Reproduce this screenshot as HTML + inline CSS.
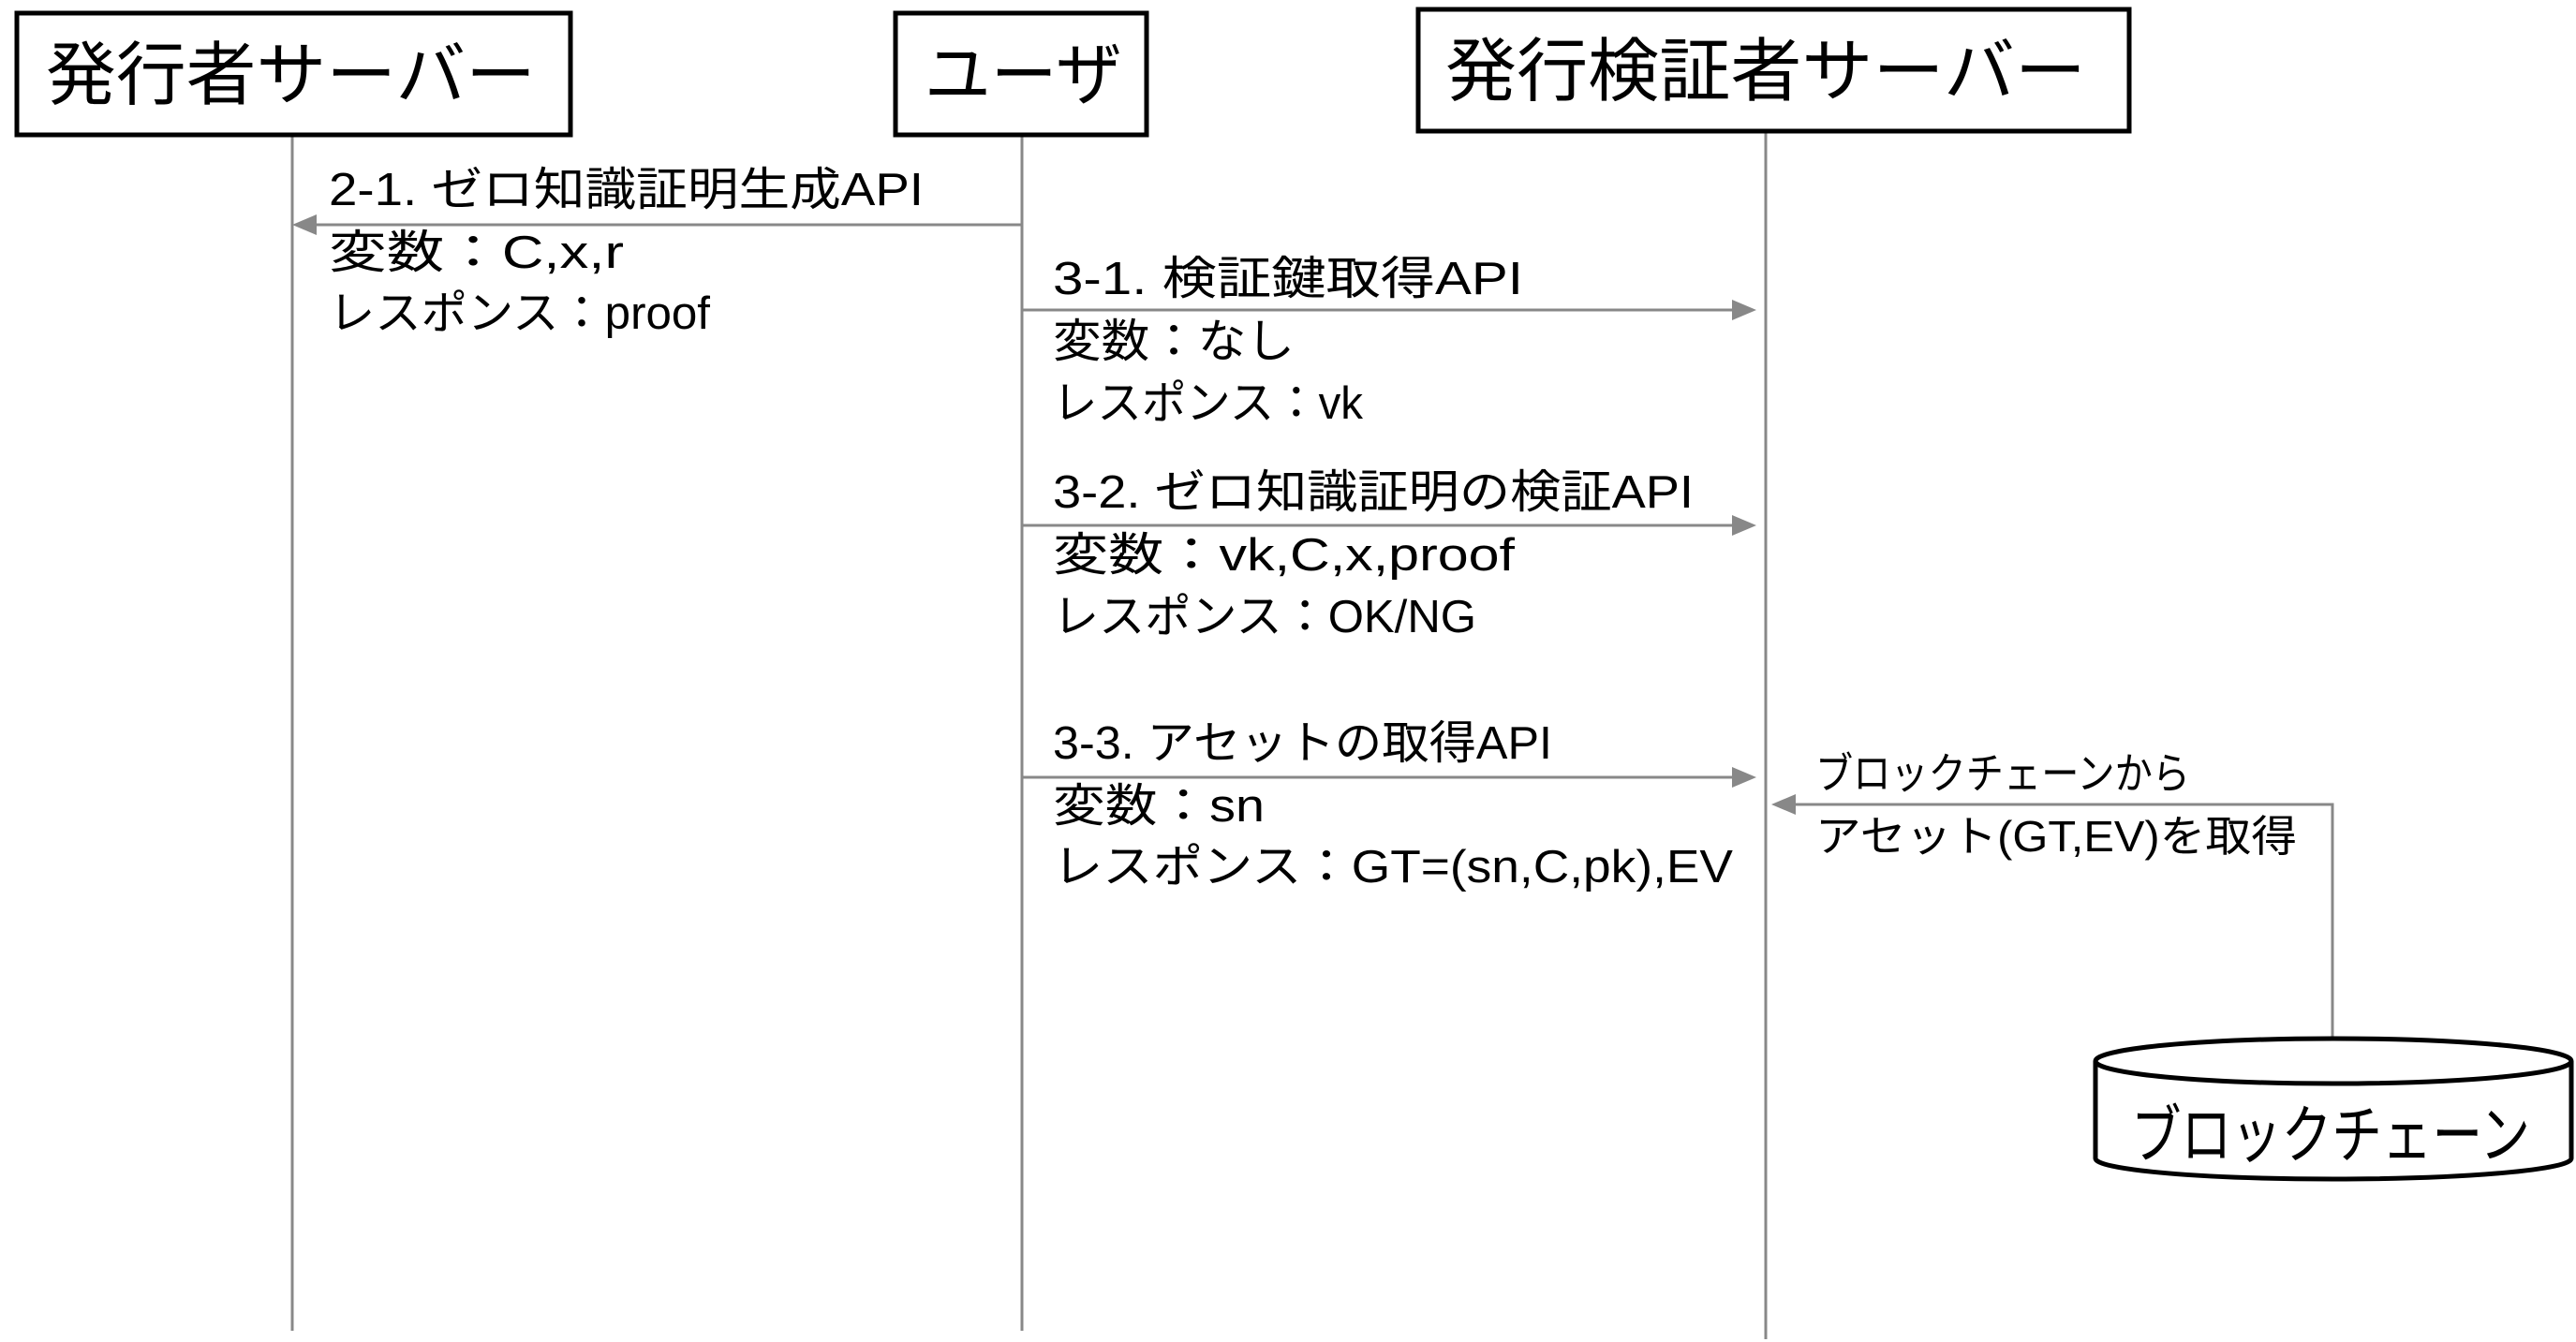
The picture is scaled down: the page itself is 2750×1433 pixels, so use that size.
<!DOCTYPE html>
<html><head><meta charset="utf-8"><style>
html,body{margin:0;padding:0;background:#fff;}
svg{display:block;}
text{font-family:"Liberation Sans","Noto Sans CJK JP",sans-serif;fill:#000;dominant-baseline:central;}
</style></head><body>
<svg width="2750" height="1433" viewBox="0 0 2750 1433" xmlns="http://www.w3.org/2000/svg">
<g stroke="#888" stroke-width="3" fill="none">
<line x1="312" y1="144" x2="312" y2="1421"/>
<line x1="1091" y1="144" x2="1091" y2="1421"/>
<line x1="1885" y1="140" x2="1885" y2="1430"/>
</g>
<g stroke="#000" stroke-width="5" fill="#fff">
<rect x="18" y="14" width="591" height="130"/>
<rect x="956" y="14" width="268" height="130"/>
<rect x="1514" y="10" width="759" height="130"/>
</g>
<text x="49" y="80" font-size="74" textLength="523" lengthAdjust="spacingAndGlyphs">発行者サーバー</text>
<text x="987" y="80" font-size="74" textLength="211" lengthAdjust="spacingAndGlyphs">ユーザ</text>
<text x="1543" y="76" font-size="74" textLength="684" lengthAdjust="spacingAndGlyphs">発行検証者サーバー</text>
<g stroke="#888" stroke-width="3" fill="#888">
<line x1="1091" y1="240" x2="330" y2="240"/>
<polygon points="312,240 338,229 338,251" stroke="none"/>
<line x1="1091" y1="331" x2="1855" y2="331"/>
<polygon points="1875,331 1849,320 1849,342" stroke="none"/>
<line x1="1091" y1="561" x2="1855" y2="561"/>
<polygon points="1875,561 1849,550 1849,572" stroke="none"/>
<line x1="1091" y1="830" x2="1855" y2="830"/>
<polygon points="1875,830 1849,819 1849,841" stroke="none"/>
<polyline points="2490,1109 2490,859 1910,859" fill="none"/>
<polygon points="1891,859 1917,848 1917,870" stroke="none"/>
</g>
<g font-size="49">
<text x="351" y="203" textLength="635" lengthAdjust="spacingAndGlyphs">2-1. ゼロ知識証明生成API</text>
<text x="351" y="270" textLength="315" lengthAdjust="spacingAndGlyphs">変数：C,x,r</text>
<text x="351" y="335" textLength="407" lengthAdjust="spacingAndGlyphs">レスポンス：proof</text>
<text x="1124" y="298" textLength="502" lengthAdjust="spacingAndGlyphs">3-1. 検証鍵取得API</text>
<text x="1124" y="365" textLength="258" lengthAdjust="spacingAndGlyphs">変数：なし</text>
<text x="1124" y="431" textLength="331" lengthAdjust="spacingAndGlyphs">レスポンス：vk</text>
<text x="1124" y="526" textLength="684" lengthAdjust="spacingAndGlyphs">3-2. ゼロ知識証明の検証API</text>
<text x="1124" y="593" textLength="493" lengthAdjust="spacingAndGlyphs">変数：vk,C,x,proof</text>
<text x="1124" y="659" textLength="452" lengthAdjust="spacingAndGlyphs">レスポンス：OK/NG</text>
<text x="1124" y="794" textLength="533" lengthAdjust="spacingAndGlyphs">3-3. アセットの取得API</text>
<text x="1124" y="861" textLength="226" lengthAdjust="spacingAndGlyphs">変数：sn</text>
<text x="1124" y="926" textLength="726" lengthAdjust="spacingAndGlyphs">レスポンス：GT=(sn,C,pk),EV</text>
<text x="1938" y="826" font-size="46" textLength="400" lengthAdjust="spacingAndGlyphs">ブロックチェーンから</text>
<text x="1938" y="893" font-size="46" textLength="514" lengthAdjust="spacingAndGlyphs">アセット(GT,EV)を取得</text>
</g>
<g stroke="#000" stroke-width="5" fill="#fff">
<path d="M2237,1133 L2237,1237 A254,22 0 0 0 2745,1237 L2745,1133"/>
<ellipse cx="2491" cy="1133" rx="254" ry="24"/>
</g>
<text x="2275" y="1213" font-size="68" textLength="426" lengthAdjust="spacingAndGlyphs">ブロックチェーン</text>
</svg>
</body></html>
